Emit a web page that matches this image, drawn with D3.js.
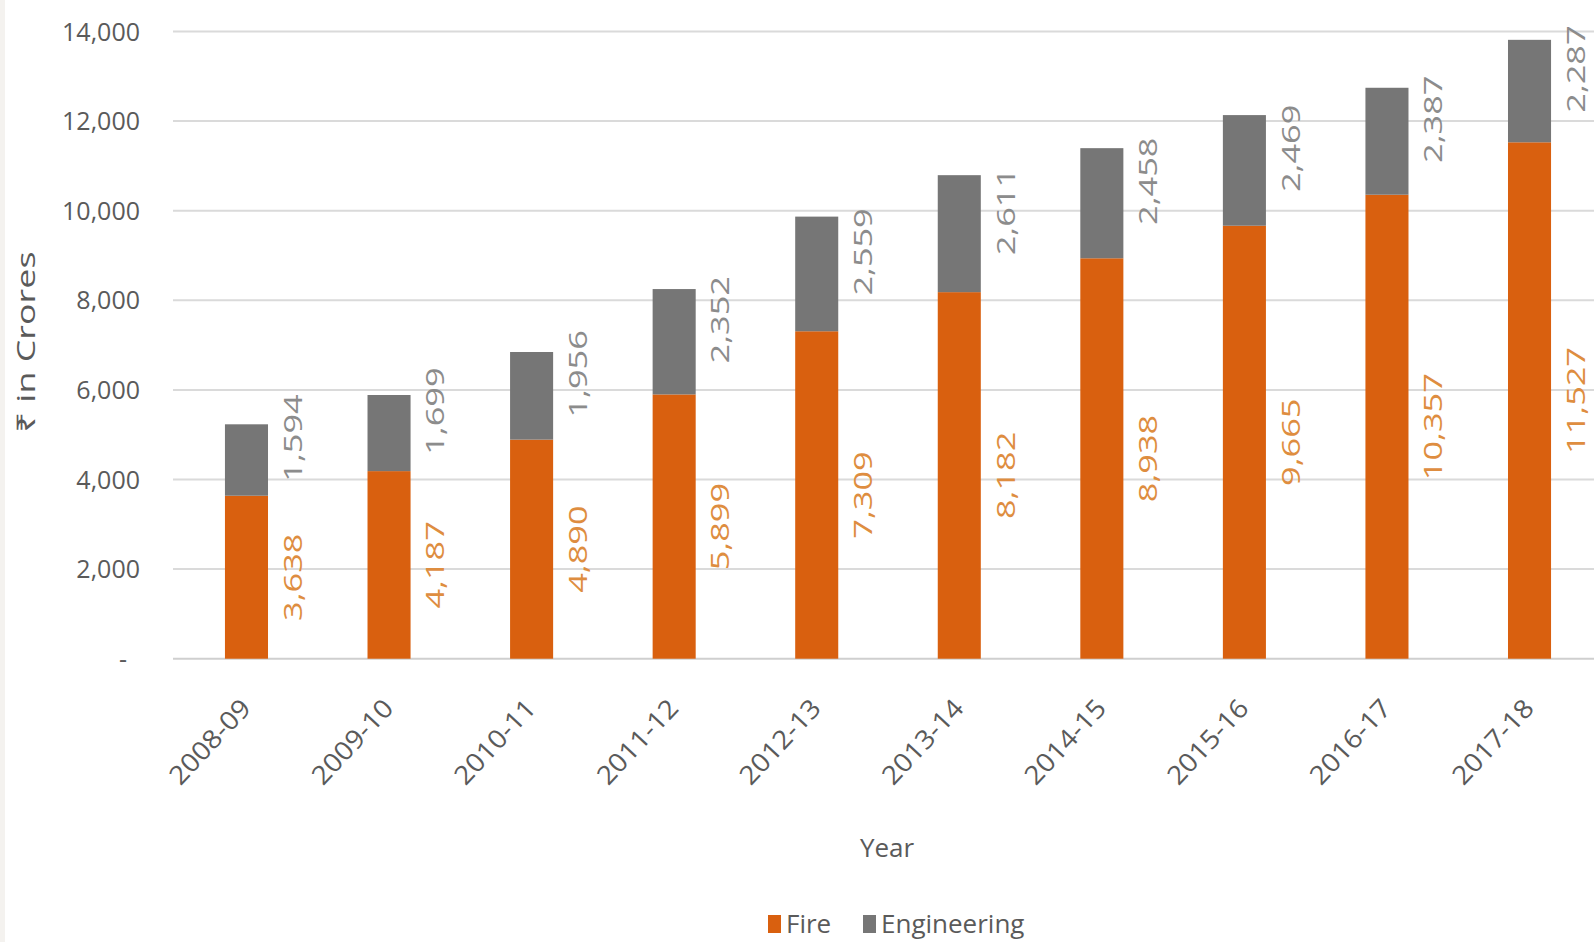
<!DOCTYPE html>
<html>
<head>
<meta charset="utf-8">
<script src="https://cdn.jsdelivr.net/npm/d3@7"></script>
<style>
  html, body { margin: 0; padding: 0; background: #ffffff; }
  svg { display: block; font-family: "Open Sans", "Noto Sans", sans-serif; }
</style>
</head>
<body>
<svg id="chart" width="1594" height="942"></svg>
<script>
const years = ["2008-09","2009-10","2010-11","2011-12","2012-13","2013-14","2014-15","2015-16","2016-17","2017-18"];
const fire = [3638, 4187, 4890, 5899, 7309, 8182, 8938, 9665, 10357, 11527];
const engineering = [1594, 1699, 1956, 2352, 2559, 2611, 2458, 2469, 2387, 2287];
const yTicks = [0, 2000, 4000, 6000, 8000, 10000, 12000, 14000];
const seriesNames = ["Fire", "Engineering"];

const colors = { Fire: "#D9600F", Engineering: "#767676" };
const labelColors = { Fire: "#DE8D40", Engineering: "#8C8C8C" };
const textColor = "#5a5a5a";

const svg = d3.select("#chart");
const W = 1594;

// faint left edge strip
svg.append("rect").attr("x", 0).attr("y", 0).attr("width", 5).attr("height", 942).attr("fill", "#f4f2ef");

const x = d3.scaleBand().domain(years).range([175.2, 1600.8]).paddingInner(0.698).paddingOuter(0.349);
const y = d3.scaleLinear().domain([0, 14000]).range([658.7, 31.5]);

const fmt = d3.format(",");

// gridlines
svg.append("g").selectAll("line").data(yTicks).join("line")
  .attr("x1", 173).attr("x2", W)
  .attr("y1", d => y(d)).attr("y2", d => y(d))
  .attr("stroke", d => d === 0 ? "#cfcfcf" : "#dadada").attr("stroke-width", 2);

// y axis labels
svg.append("g").selectAll("text").data(yTicks).join("text")
  .attr("x", d => d === 0 ? 127 : 140)
  .attr("y", d => y(d)).attr("dy", "0.36em")
  .attr("text-anchor", "end")
  .attr("fill", textColor).attr("font-size", 25)
  .text(d => d === 0 ? "-" : fmt(d));

// stacked data
const rows = years.map((yr, i) => ({ year: yr, Fire: fire[i], Engineering: engineering[i] }));
const stack = d3.stack().keys(seriesNames)(rows);

svg.append("g").selectAll("g").data(stack).join("g")
  .attr("fill", s => colors[s.key])
  .selectAll("rect").data(s => s).join("rect")
  .attr("x", d => x(d.data.year))
  .attr("width", x.bandwidth())
  .attr("y", d => y(d[1]))
  .attr("height", d => y(d[0]) - y(d[1]));

// value labels (rotated, elongated like the reference)
const labelG = svg.append("g");
stack.forEach(s => {
  labelG.selectAll(null).data(s).join("text")
    .attr("transform", d => {
      const cx = x(d.data.year) + x.bandwidth() / 2 + 48;
      let cy = (y(d[0]) + y(d[1])) / 2;
      if (s.key === "Engineering") cy -= 22;
      return `translate(${cx},${cy}) rotate(-90) scale(1.32,1)`;
    })
    .attr("text-anchor", "middle").attr("dy", "0.28em")
    .attr("fill", labelColors[s.key]).attr("font-size", 26)
    .text(d => fmt(d.data[s.key]));
});

// x axis labels
svg.append("g").selectAll("text").data(years).join("text")
  .attr("transform", d => `translate(${x(d) + x.bandwidth() / 2 - 1},${703}) rotate(-47) scale(1.08,1)`)
  .attr("text-anchor", "end").attr("dy", "0.36em")
  .attr("fill", textColor).attr("font-size", 26)
  .text(d => d);

// axis titles
svg.append("text")
  .attr("x", 887).attr("y", 848).attr("dy", "0.36em")
  .attr("text-anchor", "middle").attr("fill", textColor).attr("font-size", 26)
  .text("Year");

svg.append("text")
  .attr("transform", "translate(26,342) rotate(-90) scale(1.38,1)")
  .attr("text-anchor", "middle").attr("dy", "0.36em")
  .attr("fill", textColor).attr("font-size", 26)
  .text("₹ in Crores");

// legend
const legend = svg.append("g");
const legendItems = [
  { name: seriesNames[0], x: 768 },
  { name: seriesNames[1], x: 863 }
];
legendItems.forEach(it => {
  legend.append("rect").attr("x", it.x).attr("y", 915).attr("width", 13).attr("height", 18)
    .attr("fill", colors[it.name]);
  legend.append("text").attr("x", it.x + 18).attr("y", 924).attr("dy", "0.36em")
    .attr("fill", textColor).attr("font-size", 26)
    .text(it.name);
});
</script>
</body>
</html>
